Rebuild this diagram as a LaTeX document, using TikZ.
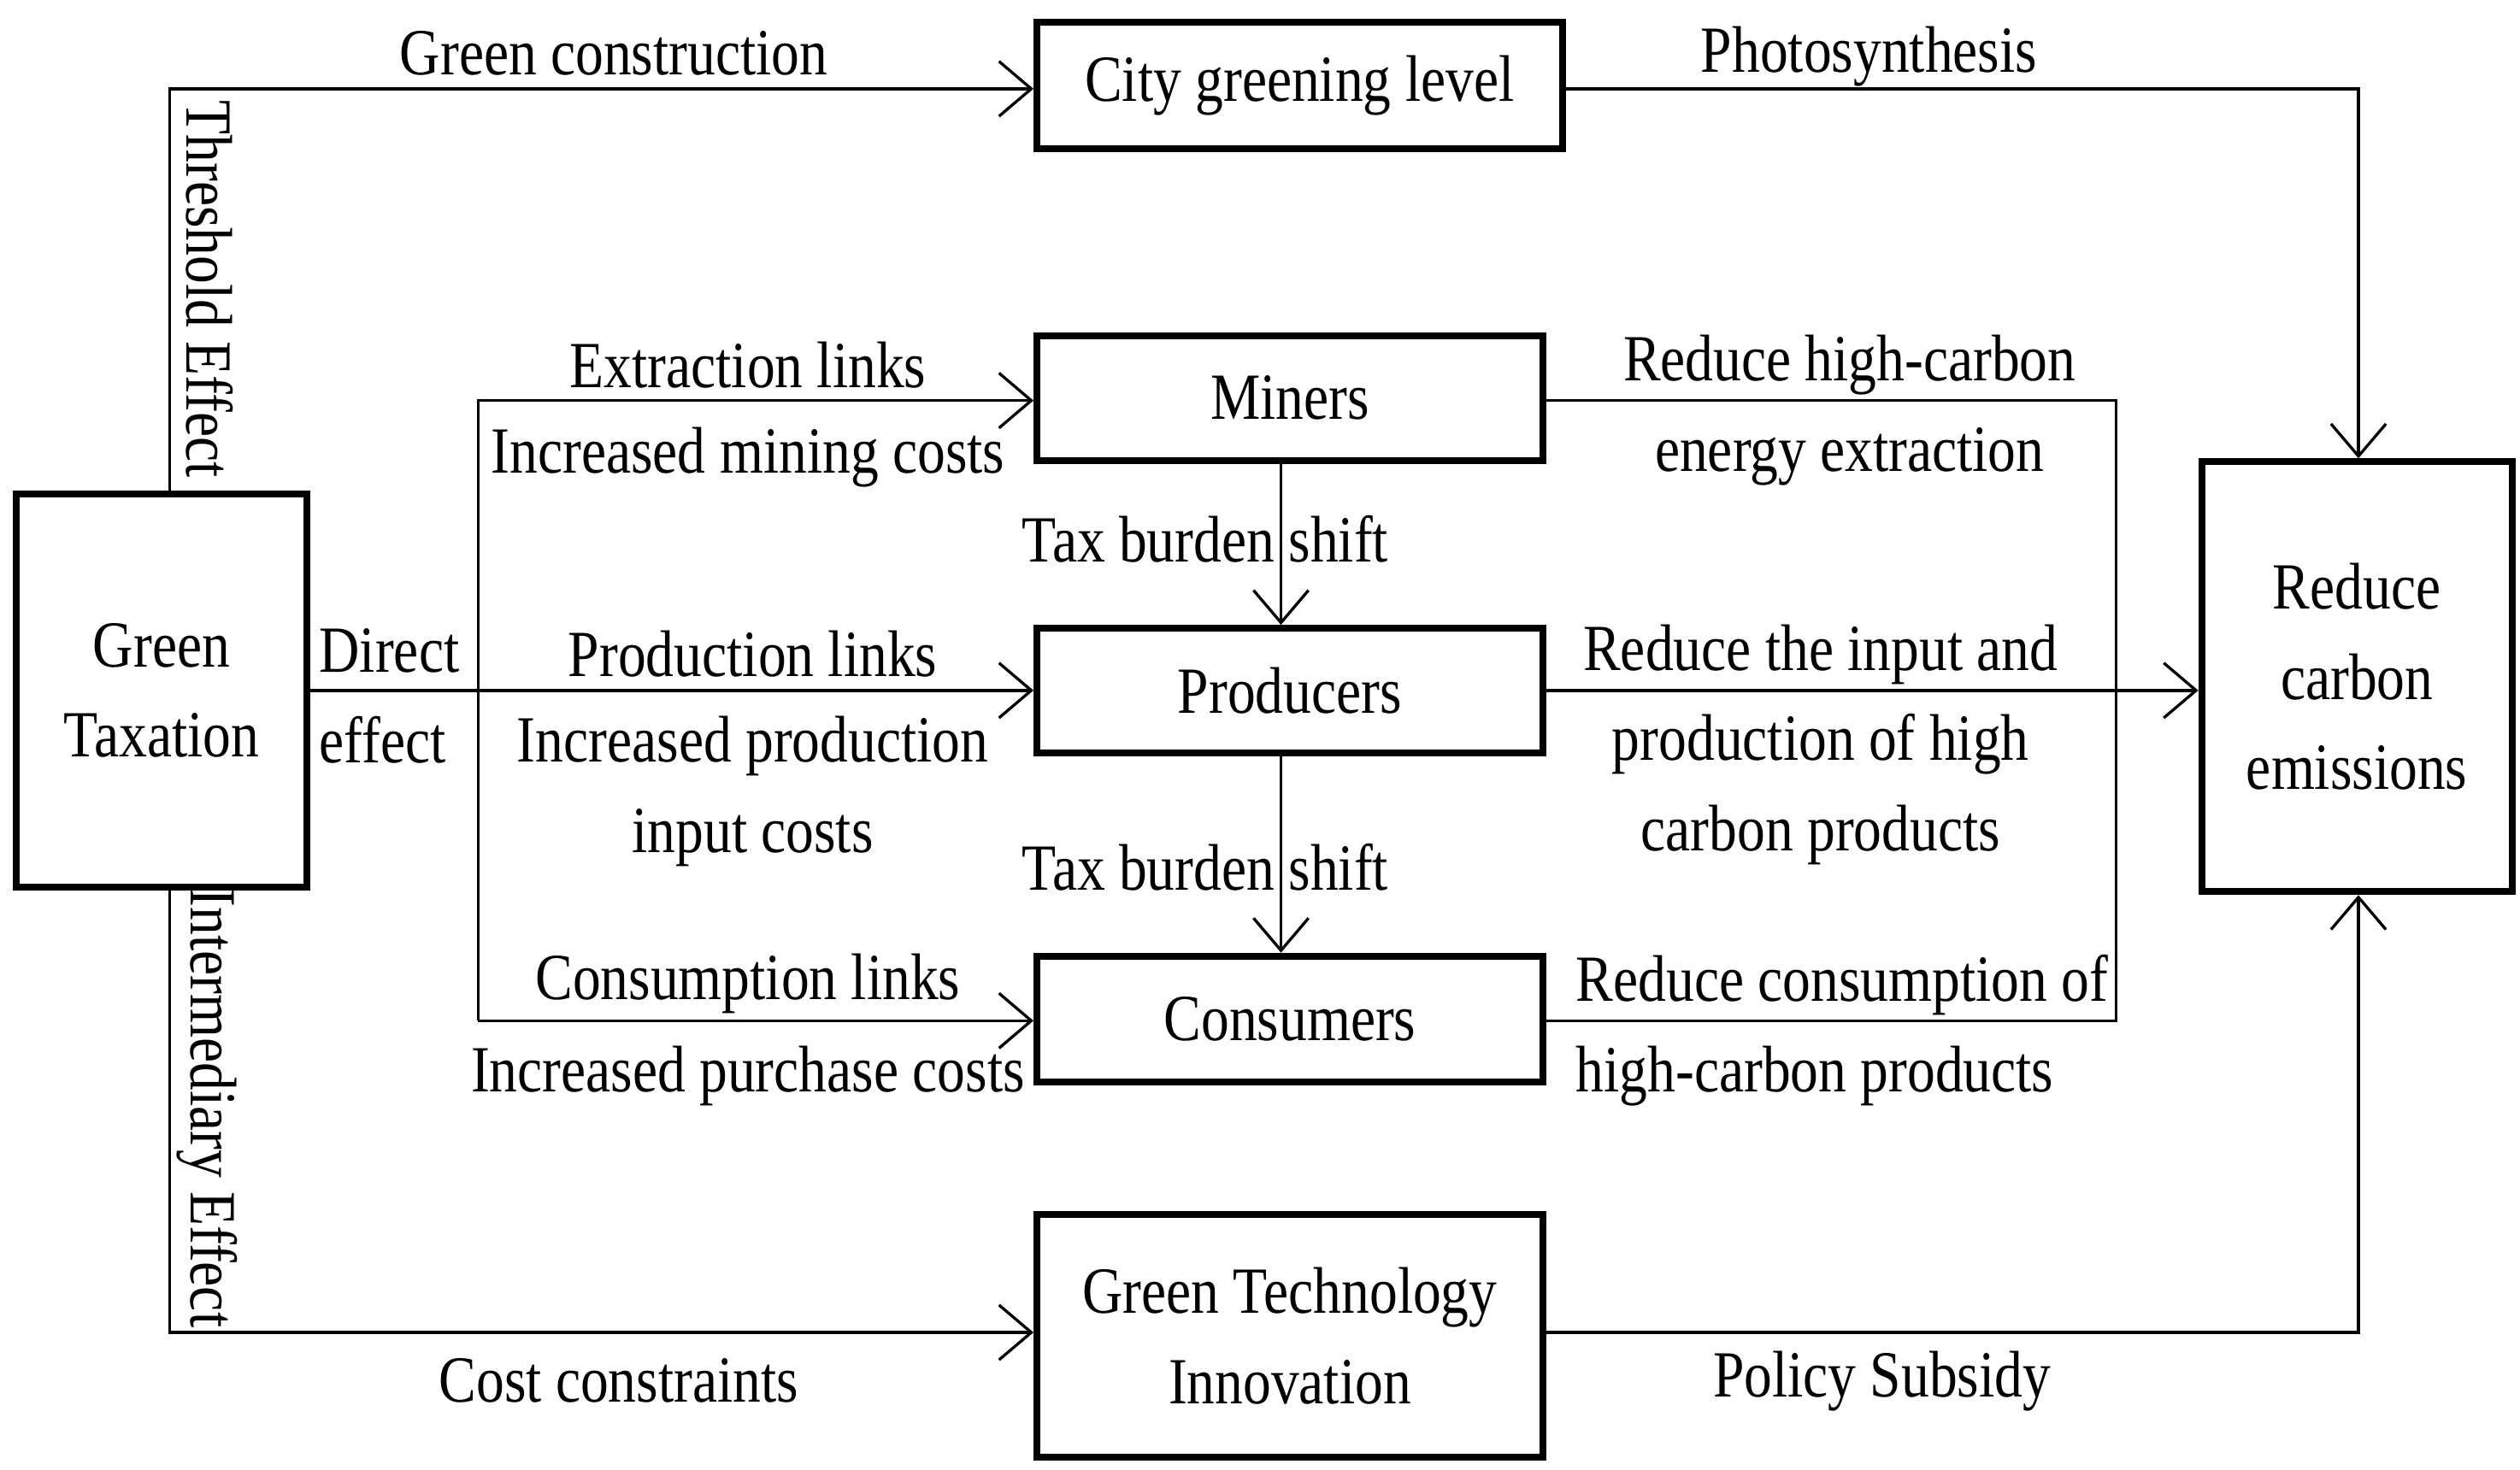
\documentclass[tikz,border=0pt]{standalone}
\usepackage{fontspec}
\setmainfont{Liberation Serif}[FakeStretch=0.85]
\usetikzlibrary{positioning,arrows.meta,calc}

\begin{document}
\begin{tikzpicture}[x=0.01cm,y=-0.01cm,font=\fontsize{11.6}{15.9}\selectfont]
    \tikzset{every path/.style={>={Straight Barb[length=2mm,width=3.4mm]}},
      box style/.style={draw,line width=1.2pt,inner sep=0pt,align=center},
      lab style/.style={inner sep=0pt,align=center},
      link style/.style={line width=0.5pt}}
    \useasboundingbox (0,0) rectangle (1560,910);
%    boxes
      \node [box style,minimum width=1.80cm,minimum height=2.43cm] (tax)    at (100,427.5) {Green\\Taxation};
      \node [box style,minimum width=3.25cm,minimum height=0.78cm] (city)   at (804.5,53)  {City greening level};
      \node [box style,minimum width=3.13cm,minimum height=0.77cm] (miners) at (798.5,246.5) {Miners};
      \node [box style,minimum width=3.13cm,minimum height=0.77cm] (prod)   at (798.5,427.5) {Producers};
      \node [box style,minimum width=3.13cm,minimum height=0.78cm] (cons)   at (798.5,631) {Consumers};
      \node [box style,minimum width=3.13cm,minimum height=1.50cm] (gti)    at (798.5,827) {Green Technology\\Innovation};
      \node [box style,minimum width=1.92cm,minimum height=2.66cm] (red)    at (1459,419) {Reduce\\carbon\\emissions};
%    corners of the connectors
      \coordinate (tl) at (105,55);   \coordinate (bl) at (105,825);
      \coordinate (tr) at (1460,55);  \coordinate (br) at (1460,825);
      \coordinate (ml) at (296,248);  \coordinate (ml2) at (296,632);
      \coordinate (mr) at (1310,248); \coordinate (mr2) at (1310,632);
      \coordinate (tx) at (793,0);
%    connectors
      \draw[link style,->] (tax.north -| tl) -- (tl) -- (tl -| city.west);
      \draw[link style,->] (city.east |- tr) -- (tr) -- (red.north -| tr);
      \draw[link style,->] (tax.south -| bl) -- (bl) -- (bl -| gti.west);
      \draw[link style,->] (gti.east |- br) -- (br) -- (red.south -| br);
      \draw[link style,->] (tax.east) -- (prod.west);
      \draw[link style,->] (ml2) -- (ml) -- (ml -| miners.west);
      \draw[link style,->] (ml2) -- (ml2 -| cons.west);
      \draw[link style] (miners.east |- mr) -- (mr) -- (mr2) -- (cons.east |- mr2);
      \draw[link style,->] (prod.east) -- (red.west |- prod.east);
      \draw[link style,->] (miners.south -| tx) -- (prod.north -| tx);
      \draw[link style,->] (prod.south -| tx) -- (cons.north -| tx);
%    labels
      \node [lab style] (lgc)  at (380,33)   {Green construction};
      \node [lab style] (lph)  at (1157,35)  {Photosynthesis};
      \node [lab style,rotate=-90] (lthr) at (130,179) {Threshold Effect};
      \node [lab style,rotate=-90] (lint) at (128,686) {Intermediary Effect};
      \node [lab style,align=left] (ldir) at (241,431) {Direct\\effect};
      \node [lab style] (lext) at (463,226)  {Extraction links};
      \node [lab style] (lmin) at (463,283)  {Increased mining costs};
      \node [lab style] (lpro) at (466,405)  {Production links};
      \node [lab style] (linp) at (466,490)  {Increased production\\input costs};
      \node [lab style] (lcon) at (463,609)  {Consumption links};
      \node [lab style] (lpur) at (463,666)  {Increased purchase costs};
      \node [lab style] (ltb1) at (746,334)  {Tax burden shift};
      \node [lab style] (ltb2) at (746,537)  {Tax burden shift};
      \node [lab style] (lrhe) at (1145,254) {Reduce high-carbon\\energy extraction};
      \node [lab style] (lrip) at (1127,461) {Reduce the input and\\production of high\\carbon products};
      \node [lab style,align=left,anchor=west] (lrcp) at (975,638) {Reduce consumption of\\high-carbon products};
      \node [lab style] (lcc)  at (383,855)  {Cost constraints};
      \node [lab style] (lps)  at (1165,855) {Policy Subsidy};
\end{tikzpicture}
\end{document}
